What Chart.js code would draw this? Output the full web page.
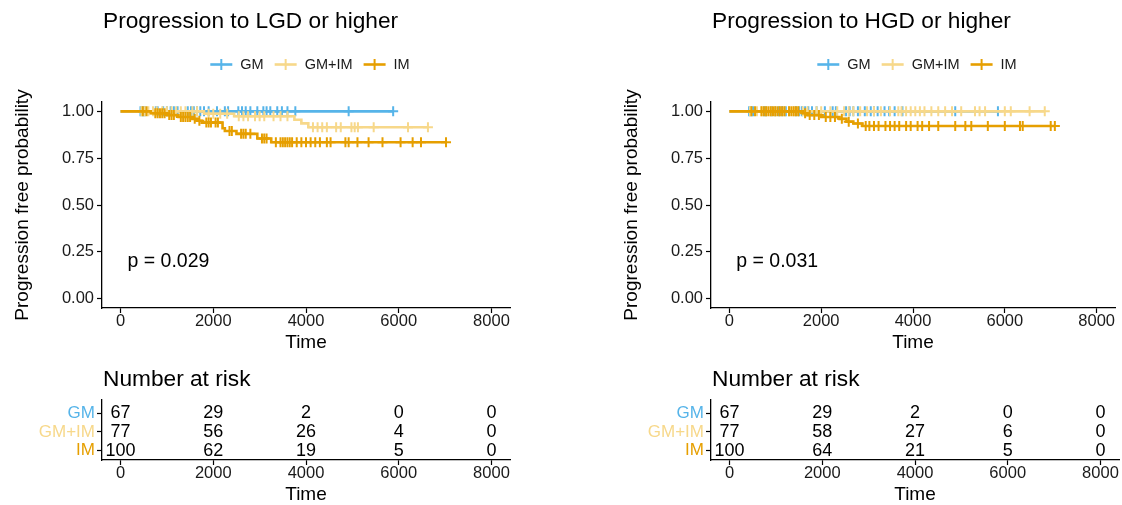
<!DOCTYPE html>
<html>
<head>
<meta charset="utf-8">
<script src="https://cdn.jsdelivr.net/npm/chart.js@4.4.1/dist/chart.umd.min.js"></script>
<style>
  body { margin: 0; background: #fff; width: 1122px; height: 505px; overflow: hidden; position: relative; }
  canvas { position: absolute; }
</style>
</head>
<body>
<canvas id="kmLGD" width="560" height="360" style="left:0;top:0"></canvas>
<canvas id="kmHGD" width="513" height="360" style="left:609px;top:0"></canvas>
<canvas id="riskLGD" width="560" height="160" style="left:0;top:355px"></canvas>
<canvas id="riskHGD" width="513" height="160" style="left:609px;top:355px"></canvas>
<script>
const groups = ['GM', 'GM+IM', 'IM'];
const groupColors = ['#56B4E9', '#F7D88A', '#E69F00'];
const timeBreaks = [0, 2000, 4000, 6000, 8000];
const probBreaks = [0, 0.25, 0.5, 0.75, 1];
const pvalPos = [150, 0.2];

// LGD or higher: event times and survival right after each event
const lgdGmEventT = [];
const lgdGmEventS = [];
const lgdGmCensor = [430, 480, 520, 760, 800, 920, 1000, 1080, 1150, 1230, 1450, 1520, 1580, 1650, 1720, 1800, 1900, 2080, 2250, 2320, 2540, 2620, 2700, 2800, 2950, 3080, 3150, 3230, 3380, 3480, 3600, 3770, 4920, 5880];
const lgdMixEventT = [1800, 2450, 3750, 3900, 4050];
const lgdMixEventS = [0.987, 0.974, 0.955, 0.936, 0.915];
const lgdMixCensor = [450, 520, 600, 700, 780, 900, 1000, 1100, 1200, 1300, 1400, 1550, 1650, 1900, 2000, 2150, 2300, 2550, 2650, 2750, 2900, 3000, 3100, 3300, 3450, 3600, 4150, 4250, 4350, 4450, 4650, 4750, 4980, 5050, 5120, 5460, 6200, 6630];
const lgdImEventT = [650, 1000, 1250, 1550, 1650, 1750, 2200, 2250, 2500, 2950, 3250];
const lgdImEventS = [0.99, 0.98, 0.97, 0.96, 0.95, 0.94, 0.91, 0.895, 0.88, 0.855, 0.835];
const lgdImCensor = [480, 560, 750, 800, 850, 900, 950, 1050, 1100, 1150, 1300, 1350, 1400, 1450, 1500, 1600, 1700, 1850, 1900, 1950, 2050, 2100, 2350, 2400, 2600, 2650, 2700, 2800, 3050, 3100, 3150, 3350, 3450, 3500, 3550, 3600, 3650, 3700, 3800, 3900, 4000, 4100, 4200, 4300, 4450, 4530, 4850, 4920, 5110, 5350, 5650, 6040, 6300, 6480, 7020];

// HGD or higher
const hgdGmEventT = [];
const hgdGmEventS = [];
const hgdGmCensor = [430, 480, 520, 760, 800, 920, 1000, 1080, 1150, 1230, 1450, 1520, 1580, 1650, 1720, 1800, 1900, 2080, 2250, 2320, 2540, 2620, 2700, 2800, 2950, 3080, 3150, 3230, 3380, 3480, 3600, 3770, 4920, 5850];
const hgdMixEventT = [];
const hgdMixEventS = [];
const hgdMixCensor = [450, 600, 700, 800, 900, 1000, 1100, 1200, 1300, 1400, 1500, 1600, 1700, 1900, 2000, 2200, 2350, 2500, 2600, 2700, 2850, 3000, 3150, 3300, 3500, 3680, 3750, 3850, 3950, 4050, 4150, 4250, 4400, 4550, 4700, 4850, 5050, 5350, 5450, 5570, 6000, 6130, 6540, 6870];
const hgdImEventT = [1600, 1700, 2000, 2400, 2550, 2700, 2900];
const hgdImEventS = [0.99, 0.98, 0.97, 0.96, 0.945, 0.935, 0.922];
const hgdImCensor = [480, 560, 700, 750, 800, 850, 900, 950, 1000, 1050, 1100, 1150, 1200, 1300, 1350, 1400, 1450, 1500, 1650, 1750, 1850, 1950, 2100, 2200, 2300, 2450, 2600, 2800, 2970, 3050, 3150, 3250, 3400, 3500, 3600, 3700, 3850, 3950, 4100, 4200, 4350, 4550, 4920, 5140, 5270, 5630, 6000, 6330, 6390, 7000, 7090];

// number at risk at timeBreaks
const riskLgdGm = [67, 29, 2, 0, 0];
const riskLgdMix = [77, 56, 26, 4, 0];
const riskLgdIm = [100, 62, 19, 5, 0];
const riskHgdGm = [67, 29, 2, 0, 0];
const riskHgdMix = [77, 58, 27, 6, 0];
const riskHgdIm = [100, 64, 21, 5, 0];

const FONT = '"Liberation Sans", Arial, Helvetica, sans-serif';
Chart.defaults.font.family = FONT;
Chart.defaults.color = '#1a1a1a';

function survAt(t, evT, evS) {
  let s = 1;
  for (let i = 0; i < evT.length; i++) if (evT[i] <= t) s = evS[i];
  return s;
}

function kmLine(evT, evS, censor) {
  const end = Math.max(...censor, ...evT);
  const pts = [{x: 0, y: 1}];
  evT.forEach((t, i) => pts.push({x: t, y: evS[i]}));
  pts.push({x: end, y: survAt(end, evT, evS)});
  return pts;
}

const kmDecor = {
  id: 'kmDecor',
  afterDraw(chart, args, opts) {
    const {ctx, chartArea, scales} = chart;
    ctx.save();
    ctx.fillStyle = '#000';
    ctx.textBaseline = 'middle';
    ctx.textAlign = 'left';
    ctx.font = '22.7px ' + FONT;
    ctx.fillText(opts.title, chartArea.left + 1, opts.titleY);

    if (opts.legend) {
      ctx.font = '14.5px ' + FONT;
      const keyW = 22, gapText = 8, gapItem = 11;
      const widths = groups.map(g => keyW + gapText + ctx.measureText(g).width);
      const total = widths.reduce((a, b) => a + b, 0) + gapItem * (groups.length - 1);
      let x = (chartArea.left + chartArea.right) / 2 + 4 - total / 2;
      const y = 64.5;
      groups.forEach((g, i) => {
        ctx.strokeStyle = groupColors[i];
        ctx.lineWidth = 2.6;
        ctx.beginPath();
        ctx.moveTo(x, y); ctx.lineTo(x + keyW, y);
        ctx.stroke();
        ctx.lineWidth = 2;
        ctx.beginPath();
        ctx.moveTo(x + keyW / 2, y - 5.5); ctx.lineTo(x + keyW / 2, y + 5.5);
        ctx.stroke();
        ctx.fillStyle = '#1a1a1a';
        ctx.fillText(g, x + keyW + gapText, y);
        x += widths[i] + gapItem;
      });
    }

    if (opts.pText) {
      ctx.fillStyle = '#000';
      ctx.font = '19.5px ' + FONT;
      ctx.fillText(opts.pText, scales.x.getPixelForValue(pvalPos[0]), scales.y.getPixelForValue(pvalPos[1]));
    }
    ctx.restore();
  }
};

const riskText = {
  id: 'riskText',
  afterDatasetsDraw(chart) {
    const ctx = chart.ctx;
    ctx.save();
    ctx.font = '18px ' + FONT;
    ctx.fillStyle = '#000';
    ctx.textAlign = 'center';
    ctx.textBaseline = 'middle';
    chart.data.datasets.forEach((ds, i) => {
      chart.getDatasetMeta(i).data.forEach((pt, j) => ctx.fillText(String(ds.counts[j]), pt.x, pt.y));
    });
    ctx.restore();
  }
};

function axisBase() {
  return {
    grid: { display: true, drawOnChartArea: false, drawTicks: true, tickLength: 5, tickColor: '#000', tickWidth: 1.2 },
    border: { display: true, color: '#000', width: 1.3 }
  };
}

function timeAxis(h, titlePadBottom) {
  return Object.assign(axisBase(), {
    type: 'linear', min: -400, max: 8400,
    afterBuildTicks: s => { s.ticks = timeBreaks.map(v => ({value: v})); },
    afterFit: s => { s.height = h; },
    ticks: { color: '#1a1a1a', font: {size: 16.5, lineHeight: 1}, padding: 0, maxRotation: 0, callback: v => String(v) },
    title: { display: true, text: 'Time', color: '#000', font: {size: 19}, padding: {top: 0, bottom: titlePadBottom} }
  });
}

function kmChart(id, title, pText, sets, padRight) {
  const datasets = [];
  sets.forEach((s, i) => {
    const [evT, evS, cens] = s;
    datasets.push({
      type: 'line', label: groups[i], data: kmLine(evT, evS, cens), stepped: true,
      borderColor: groupColors[i], borderWidth: 2.6, pointRadius: 0, fill: false, order: (2 - i) * 2 + 1
    });
    datasets.push({
      type: 'scatter', label: groups[i] + ' censor',
      data: cens.map(t => ({x: t, y: survAt(t, evT, evS)})),
      pointStyle: 'cross', pointRadius: 5, borderColor: groupColors[i], borderWidth: 2,
      backgroundColor: groupColors[i], order: (2 - i) * 2
    });
  });
  const yAxis = Object.assign(axisBase(), {
    type: 'linear', min: -0.05, max: 1.05,
    afterBuildTicks: s => { s.ticks = probBreaks.map(v => ({value: v})); },
    afterFit: s => { s.width = 102; },
    ticks: { color: '#1a1a1a', font: {size: 16.5, lineHeight: 1}, padding: 3, callback: v => v.toFixed(2) },
    title: { display: true, text: 'Progression free probability', color: '#000', font: {size: 19}, padding: {top: 11, bottom: 0} }
  });
  return new Chart(document.getElementById(id), {
    data: { datasets: datasets },
    options: {
      responsive: false, animation: false, events: [], devicePixelRatio: 1,
      layout: { padding: {top: 102, left: 0, right: padRight, bottom: 0} },
      scales: { x: timeAxis(52, 5.6), y: yAxis },
      plugins: {
        legend: {display: false}, title: {display: false}, tooltip: {enabled: false},
        kmDecor: { title: title, titleY: 22, legend: true, pText: pText }
      }
    },
    plugins: [kmDecor]
  });
}

function riskChart(id, counts, padRight) {
  const datasets = counts.map((c, i) => ({
    type: 'scatter', label: groups[i],
    data: timeBreaks.map(t => ({x: t, y: 3 - i})),
    counts: c, pointRadius: 0
  }));
  const yAxis = Object.assign(axisBase(), {
    type: 'linear', min: 0.5, max: 3.7,
    afterBuildTicks: s => { s.ticks = [1, 2, 3].map(v => ({value: v})); },
    afterFit: s => { s.width = 102; },
    ticks: {
      font: {size: 17, lineHeight: 1}, padding: 2,
      color: c => groupColors[3 - c.tick.value],
      callback: v => groups[3 - v]
    }
  });
  return new Chart(document.getElementById(id), {
    data: { datasets: datasets },
    options: {
      responsive: false, animation: false, events: [], devicePixelRatio: 1,
      layout: { padding: {top: 45, left: 0, right: padRight, bottom: 0} },
      scales: { x: timeAxis(55, 8.6), y: yAxis },
      plugins: {
        legend: {display: false}, title: {display: false}, tooltip: {enabled: false},
        kmDecor: { title: 'Number at risk', titleY: 25, legend: false, pText: null }
      }
    },
    plugins: [kmDecor, riskText]
  });
}

kmChart('kmLGD', 'Progression to LGD or higher', 'p = 0.029', [
  [lgdGmEventT, lgdGmEventS, lgdGmCensor],
  [lgdMixEventT, lgdMixEventS, lgdMixCensor],
  [lgdImEventT, lgdImEventS, lgdImCensor]
], 50);
kmChart('kmHGD', 'Progression to HGD or higher', 'p = 0.031', [
  [hgdGmEventT, hgdGmEventS, hgdGmCensor],
  [hgdMixEventT, hgdMixEventS, hgdMixCensor],
  [hgdImEventT, hgdImEventS, hgdImCensor]
], 3);
riskChart('riskLGD', [riskLgdGm, riskLgdMix, riskLgdIm], 50);
riskChart('riskHGD', [riskHgdGm, riskHgdMix, riskHgdIm], 3);
</script>
</body>
</html>
